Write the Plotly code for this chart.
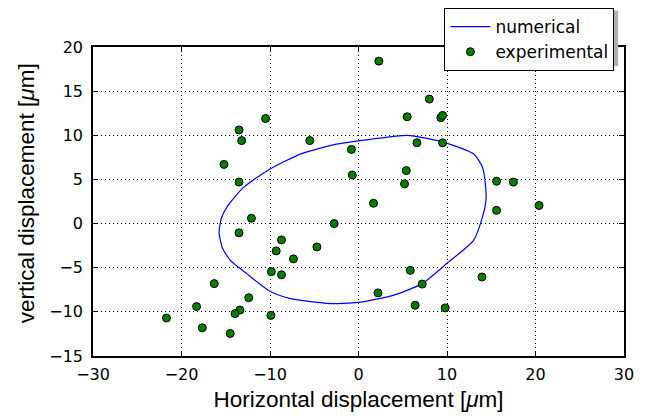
import plotly.graph_objects as go

# experimental points
exp_x = [-10.5, -13.5, -13.2, -15.2, -13.5, -5.5, -0.8, -0.7,
         2.3, 8.0, 5.5, 9.3, 9.5, 6.6, 9.5, 5.4, 5.2, 15.6, 17.5, 1.7,
         15.6, 20.4, 5.85, 7.2, 13.95, 2.2, 6.4, 9.8,
         -12.1, -13.5, -2.75, -8.7, -9.3, -4.7, -7.35, -9.85, -8.7, -16.3,
         -18.3, -12.4, -13.4, -13.95, -21.7, -17.65, -14.5, -9.9]
exp_y = [11.9, 10.6, 9.4, 6.7, 4.7, 9.4, 8.4, 5.5,
         18.4, 14.1, 12.1, 12.0, 12.25, 9.15, 9.15, 6.0, 4.5, 4.8, 4.7, 2.3,
         1.5, 2.05, -5.3, -6.85, -6.05, -7.85, -9.25, -9.55,
         0.6, -1.05, 0.0, -1.85, -3.1, -2.65, -4.0, -5.45, -5.8, -6.8,
         -9.4, -8.4, -9.8, -10.2, -10.7, -11.8, -12.45, -10.4]

# numerical curve
num_x = [-14.5, -15.4, -15.75, -15.5, -14.85, -13.0, -9.95, -6.5, -2.5, 1.4, 5.5, 9.65,
         13.0, 14.0, 14.37, 14.4, 14.0, 13.0, 10.0, 7.2, 4.0, 0.2, -1.7, -3.9,
         -7.7, -9.95, -12.6, -14.5]
num_y = [-4.15, -2.7, -1.0, 0.6, 1.9, 4.1, 6.2, 7.9, 9.0, 9.55, 10.0, 9.2,
         7.9, 6.4, 4.14, 2.6, 0.7, -1.9, -4.5, -6.8, -8.1, -8.9, -9.05, -9.0,
         -8.5, -7.7, -5.7, -4.15]

fig = go.Figure()
fig.add_trace(go.Scatter(x=num_x, y=num_y, mode="lines", name="numerical",
                         line=dict(color="#0000ff", width=1.2, shape="spline", smoothing=0.6)))
fig.add_trace(go.Scatter(x=exp_x, y=exp_y, mode="markers", name="experimental",
                         marker=dict(color="#008000", size=8, line=dict(color="black", width=1))))

axis_common = dict(showgrid=True, gridcolor="black", griddash="1px,3px", gridwidth=1,
                   showline=True, linecolor="black", linewidth=1.5, mirror="ticks",
                   ticks="inside", ticklen=5, tickcolor="black", zeroline=False,
                   tickfont=dict(family="DejaVu Sans", size=16, color="black"))

fig.update_xaxes(range=[-30, 30], dtick=10, **axis_common, ticklabelstandoff=3,
                 title=dict(text="Horizontal displacement [<i>μ</i>m]",
                            font=dict(family="Liberation Sans", size=22.5, color="black"), standoff=8))
fig.update_yaxes(range=[-15, 20], dtick=5, **axis_common, ticklabelstandoff=5)

fig.add_annotation(text="vertical displacement [<i>μ</i>m]", textangle=-90,
                   xref="paper", yref="paper", x=-0.126, y=0.527,
                   xanchor="center", yanchor="middle", showarrow=False,
                   font=dict(family="Liberation Sans", size=22.5, color="black"))

# legend shadow
fig.add_shape(type="rect", xref="paper", yref="paper", x0=0.664, x1=0.989, y0=0.9385, y1=1.117,
              fillcolor="#b0b0b0", line=dict(width=0), layer="above")

fig.update_layout(
    width=646, height=416,
    margin=dict(l=93, r=22, t=47, b=60, autoexpand=False),
    plot_bgcolor="white", paper_bgcolor="white",
    showlegend=True,
    legend=dict(x=0.982, y=1.126, xanchor="right", yanchor="top",
                bgcolor="white", bordercolor="black", borderwidth=1,
                font=dict(family="DejaVu Sans", size=17, color="black"),
                itemwidth=40, tracegroupgap=0),
)

fig.write_html("out.html")
